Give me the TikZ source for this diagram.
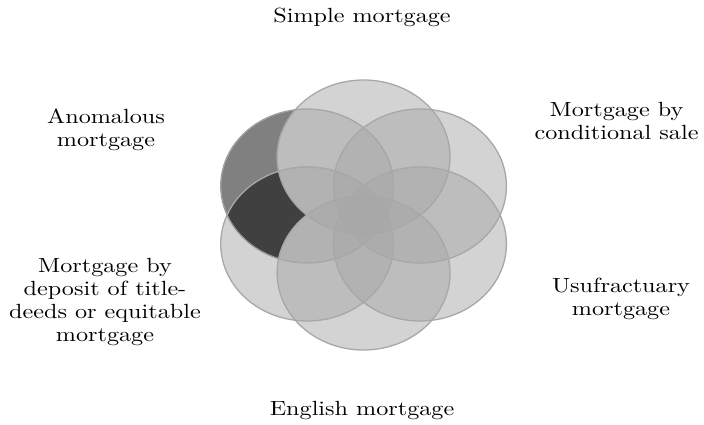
\documentclass[tikz,border=0pt]{standalone}
\usepackage{fontspec}
\usepackage{tikz}
\usetikzlibrary{calc, positioning}
\newfontfamily\widefont{lmroman10-regular.otf}[FakeStretch=1.05]
\definecolor{ringFill}{RGB}{167, 167, 167}
\definecolor{ringLine}{RGB}{168, 168, 168}
\definecolor{lunaMid}{RGB}{128, 128, 128}
\definecolor{lunaDark}{RGB}{64, 64, 64}

\begin{document}
\begin{tikzpicture}[x=1pt, y=-1pt, xscale=1.123, transform shape,
    ring/.style={fill=ringFill, fill opacity=0.5, draw=ringLine, line width=1.3pt},
    kindtext/.style={font=\widefont\fontsize{20.5}{23.3}\selectfont, align=center, text=black}]
  \useasboundingbox (0,0) rectangle (626.9,425);
  % six circles round the middle
  \coordinate (mid) at (323.7,215);
  \coordinate (top) at (323.7,157);
  \coordinate (ur) at (373.9,186);
  \coordinate (lr) at (373.9,244);
  \coordinate (bot) at (323.7,273);
  \coordinate (ll) at (273.5,244);
  \coordinate (ul) at (273.5,186);
  \foreach \c in {top, ur, lr, bot, ll, ul} {
    \path[ring] (\c) circle[radius=77];
  }
  % shaded parts of the upper left circle
  \begin{scope}[even odd rule]
    \clip (ul) circle[radius=77];
    \clip (0,0) rectangle (626.9,425) (top) circle[radius=77];
    \clip (0,0) rectangle (626.9,425) (ll) circle[radius=77];
    \fill[lunaMid] (ul) circle[radius=77];
  \end{scope}
  \begin{scope}[even odd rule]
    \clip (ul) circle[radius=77];
    \clip (ll) circle[radius=77];
    \clip (0,0) rectangle (626.9,425) (top) circle[radius=77];
    \clip (0,0) rectangle (626.9,425) (bot) circle[radius=77];
    \fill[lunaDark] (ul) circle[radius=77];
  \end{scope}
  \begin{scope}
    \clip (ul) circle[radius=77];
    \foreach \c in {top, bot, ll, ul} {
      \draw[ringLine, line width=1.3pt] (\c) circle[radius=77];
    }
  \end{scope}

  % labels
  \node[kindtext] (simple) at (322.4,17) {Simple mortgage};
  \node[kindtext] (anomal) at (94.4,130) {Anomalous\\mortgage};
  \node[kindtext] (condsale) at (549,121) {Mortgage by\\conditional sale};
  \node[kindtext] (deposit) at (93.5,302) {Mortgage by\\deposit of title-\\deeds or equitable\\mortgage};
  \node[kindtext] (usufr) at (553,299) {Usufractuary\\mortgage};
  \node[kindtext] (english) at (322.4,411) {English mortgage};
\end{tikzpicture}
\end{document}
